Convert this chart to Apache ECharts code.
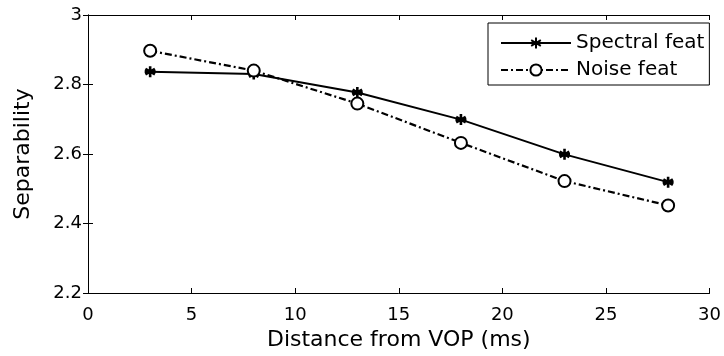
<!DOCTYPE html>
<html><head><meta charset="utf-8">
<script src="https://cdn.jsdelivr.net/npm/echarts@6/dist/echarts.min.js"></script>
<style>html,body{margin:0;padding:0;background:#fff}#c{width:724px;height:356px}</style>
</head><body><div id="c"></div>
<script>
var distances = [3, 8, 13, 18, 23, 28];
var spectralFeat = [2.837, 2.830, 2.777, 2.699, 2.599, 2.519];
var noiseFeat = [2.897, 2.840, 2.745, 2.632, 2.522, 2.452];
var seriesNames = ['Spectral feat', 'Noise feat'];
var xTitle = 'Distance from VOP (ms)';
var yTitle = 'Separability';

function pairs(xs, ys){ return xs.map(function(x,i){ return [x, ys[i]]; }); }
var font = '"DejaVu Sans", sans-serif';
var asterisk = 'path://M0,-10L0,10M-8.66,-5L8.66,5M-8.66,5L8.66,-5M-10,0L10,0';
var chart = echarts.init(document.getElementById('c'));
var axisCommon = {
  axisLine:{show:true, lineStyle:{color:'#000', width:1}},
  axisTick:{show:true, inside:true, length:5, lineStyle:{color:'#000'}},
  splitLine:{show:false}
};
chart.setOption({
  animation:false,
  backgroundColor:'#fff',
  grid:{left:88, right:14, top:15, bottom:62},
  legend:{
    orient:'vertical', left:488, top:23,
    borderColor:'#000', borderWidth:1, padding:[10,5,5,12],
    itemWidth:70, itemHeight:14, itemGap:7,
    textStyle:{fontFamily:font, fontSize:20, color:'#000'},
    data:seriesNames
  },
  xAxis:[
    Object.assign({type:'value', min:0, max:30, interval:5, position:'bottom',
      name:xTitle, nameLocation:'middle', nameGap:36,
      nameTextStyle:{fontFamily:font, fontSize:22, color:'#000'},
      axisLabel:{fontFamily:font, fontSize:18, color:'#000', margin:13}}, axisCommon),
    Object.assign({type:'value', min:0, max:30, interval:5, position:'top',
      axisLabel:{show:false}}, axisCommon)
  ],
  yAxis:[
    Object.assign({type:'value', min:2.2, max:3, interval:0.2, position:'left',
      name:yTitle, nameLocation:'middle', nameGap:54,
      nameTextStyle:{fontFamily:font, fontSize:22, color:'#000'},
      axisLabel:{fontFamily:font, fontSize:18, color:'#000', margin:6,
        formatter:function(v){ return (Math.round(v*10)/10).toString(); }}}, axisCommon),
    Object.assign({type:'value', min:2.2, max:3, interval:0.2, position:'right',
      axisLabel:{show:false}}, axisCommon)
  ],
  series:[
    {name:seriesNames[0], type:'line', data:pairs(distances, spectralFeat),
      symbol:asterisk, symbolSize:11,
      lineStyle:{color:'#000', width:2},
      itemStyle:{color:'#000', borderColor:'#000', borderWidth:2.6, borderType:'solid'}},
    {name:seriesNames[1], type:'line', data:pairs(distances, noiseFeat),
      symbol:'emptyCircle', symbolSize:12,
      lineStyle:{color:'#000', width:2.2, type:[7,3,2,3]},
      itemStyle:{color:'#000', borderColor:'#000', borderWidth:2.6, borderType:'solid'}}
  ]
});
</script></body></html>
